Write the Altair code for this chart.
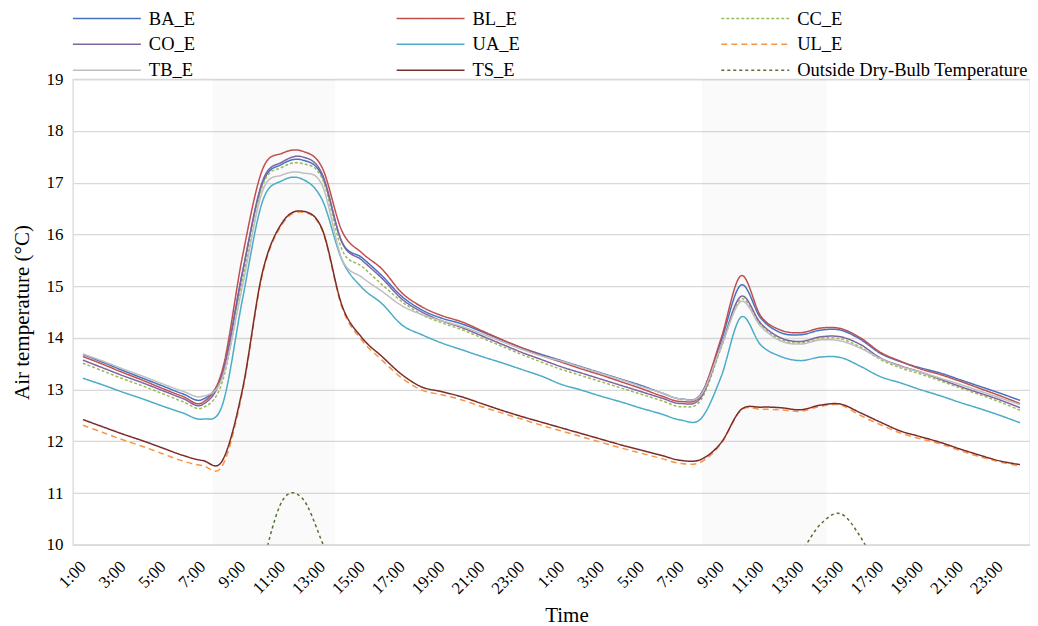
import altair as alt
import pandas as pd

hours = ["1:00", "2:00", "3:00", "4:00", "5:00", "6:00", "7:00", "8:00",
         "9:00", "10:00", "11:00", "12:00", "13:00", "14:00", "15:00", "16:00",
         "17:00", "18:00", "19:00", "20:00", "21:00", "22:00", "23:00", "24:00"]
time_labels = hours + hours

BA_E = [13.68, 13.53, 13.37, 13.22, 13.07, 12.92, 12.81, 13.33, 15.27, 16.98, 17.36, 17.44,
        17.13, 15.85, 15.55, 15.20, 14.80, 14.54, 14.38, 14.27, 14.12, 13.96, 13.81, 13.68,
        13.56, 13.44, 13.32, 13.20, 13.08, 12.94, 12.82, 12.92, 13.93, 15.02, 14.38, 14.10,
        14.06, 14.15, 14.15, 13.97, 13.70, 13.54, 13.42, 13.32, 13.19, 13.06, 12.93, 12.79]
BL_E = [13.64, 13.49, 13.33, 13.18, 13.02, 12.87, 12.75, 13.39, 15.57, 17.25, 17.57, 17.61,
        17.29, 16.06, 15.64, 15.33, 14.87, 14.60, 14.43, 14.31, 14.14, 13.97, 13.81, 13.66,
        13.53, 13.40, 13.28, 13.15, 13.02, 12.88, 12.77, 12.90, 13.98, 15.20, 14.42, 14.15,
        14.10, 14.19, 14.18, 14.00, 13.72, 13.55, 13.40, 13.29, 13.16, 13.02, 12.88, 12.73]
CC_E = [13.51, 13.36, 13.21, 13.07, 12.92, 12.77, 12.65, 13.16, 15.10, 16.93, 17.30, 17.37,
        17.08, 15.70, 15.38, 15.03, 14.70, 14.45, 14.29, 14.16, 14.00, 13.84, 13.68, 13.53,
        13.39, 13.27, 13.15, 13.03, 12.91, 12.79, 12.67, 12.80, 13.80, 14.75, 14.25, 13.97,
        13.90, 13.99, 13.98, 13.82, 13.58, 13.42, 13.30, 13.17, 13.03, 12.90, 12.76, 12.60]
CO_E = [13.57, 13.42, 13.27, 13.13, 12.98, 12.83, 12.71, 13.30, 15.25, 17.02, 17.40, 17.50,
        17.17, 15.84, 15.50, 15.15, 14.75, 14.50, 14.33, 14.20, 14.04, 13.88, 13.72, 13.58,
        13.44, 13.32, 13.20, 13.08, 12.96, 12.84, 12.73, 12.85, 13.83, 14.80, 14.28, 14.00,
        13.93, 14.02, 14.02, 13.87, 13.61, 13.46, 13.34, 13.20, 13.06, 12.93, 12.80, 12.65]
UA_E = [13.22, 13.09, 12.95, 12.82, 12.68, 12.55, 12.43, 12.71, 14.74, 16.63, 17.04, 17.07,
        16.67, 15.50, 14.97, 14.66, 14.25, 14.06, 13.90, 13.77, 13.64, 13.52, 13.39, 13.26,
        13.10, 12.99, 12.87, 12.76, 12.64, 12.53, 12.41, 12.44, 13.24, 14.40, 13.86, 13.64,
        13.56, 13.63, 13.62, 13.45, 13.25, 13.13, 13.00, 12.88, 12.75, 12.63, 12.50, 12.36]
UL_E = [12.31, 12.17, 12.03, 11.90, 11.76, 11.62, 11.53, 11.53, 12.95, 15.22, 16.20, 16.43,
        16.08, 14.58, 13.95, 13.57, 13.22, 12.99, 12.90, 12.80, 12.67, 12.55, 12.43, 12.31,
        12.20, 12.09, 11.98, 11.87, 11.77, 11.67, 11.57, 11.60, 11.95, 12.60, 12.62, 12.61,
        12.58, 12.68, 12.70, 12.50, 12.32, 12.16, 12.05, 11.95, 11.82, 11.70, 11.60, 11.52]
TB_E = [13.69, 13.55, 13.40, 13.26, 13.11, 12.97, 12.87, 13.24, 15.00, 16.83, 17.15, 17.19,
        16.95, 15.52, 15.17, 14.90, 14.62, 14.45, 14.33, 14.22, 14.08, 13.93, 13.78, 13.65,
        13.55, 13.43, 13.31, 13.19, 13.06, 12.94, 12.82, 12.90, 13.82, 14.70, 14.22, 13.94,
        13.88, 13.96, 13.94, 13.80, 13.60, 13.45, 13.34, 13.22, 13.10, 12.97, 12.84, 12.71]
TS_E = [12.42, 12.28, 12.14, 12.01, 11.87, 11.73, 11.63, 11.63, 13.00, 15.26, 16.23, 16.45,
        16.10, 14.62, 14.00, 13.64, 13.29, 13.05, 12.96, 12.86, 12.73, 12.60, 12.48, 12.37,
        12.26, 12.15, 12.04, 11.93, 11.83, 11.73, 11.63, 11.65, 11.97, 12.61, 12.66, 12.65,
        12.61, 12.70, 12.72, 12.55, 12.37, 12.20, 12.09, 11.98, 11.85, 11.73, 11.62, 11.55]
outdoor = [6.5, 6.2, 6.0, 5.8, 5.6, 5.5, 5.6, 6.5, 8.0, 9.6, 10.85, 10.9,
           10.05, 9.0, 8.2, 7.6, 7.2, 6.9, 6.6, 6.4, 6.2, 6.0, 5.8, 5.7,
           5.6, 5.4, 5.2, 5.1, 5.0, 4.9, 5.0, 5.8, 7.0, 8.0, 8.8, 9.4,
           9.85, 10.4, 10.6, 10.15, 9.4, 8.5, 7.8, 7.3, 6.9, 6.6, 6.3, 6.1]

# occupied (shaded) periods, in hour-index units
shade_start = [6.5, 31.05]
shade_end = [12.65, 37.3]
shade_low = [10, 10]
shade_high = [19, 19]

names = ["BA_E", "BL_E", "CC_E", "CO_E", "UA_E", "UL_E", "TB_E", "TS_E",
         "Outside Dry-Bulb Temperature"]
colors = ["#4472C4", "#C0504D", "#9BBB59", "#8064A2", "#4BACC6", "#F79646",
          "#BFBFBF", "#7B2C2A", "#56722E"]
dashes = [[1, 0], [1, 0], [3, 2], [1, 0], [1, 0], [6, 4], [1, 0], [1, 0], [3, 3]]
widths = [1.5, 1.5, 1.5, 1.5, 1.5, 1.5, 1.5, 1.5, 3.2]
series_values = [BA_E, BL_E, CC_E, CO_E, UA_E, UL_E, TB_E, TS_E, outdoor]

rows = []
for name, vals in zip(names, series_values):
    for i, v in enumerate(vals):
        rows.append({"t": i, "temp": v, "series": name})
df = pd.DataFrame(rows)

shade_df = pd.DataFrame({"t": shade_start, "t_end": shade_end,
                         "temp": shade_low, "temp_end": shade_high})

label_array = "[" + ",".join("'" + s + "'" for s in time_labels) + "]"

FONT = "Liberation Serif"

xscale = alt.Scale(domain=[-0.5, 47.5], nice=False, zero=False)
yscale = alt.Scale(domain=[10, 19], nice=False, zero=False)

x_axis = alt.Axis(
    title="Time", values=list(range(0, 48, 2)),
    labelExpr=label_array + "[datum.value]",
    labelAngle=-45, labelAlign="right", labelBaseline="middle", labelPadding=19,
    labelFontSize=17,
    grid=False, titleX=494, titleY=60, titleAlign="center", titleBaseline="top",
)
y_axis = alt.Axis(
    title="Air temperature (°C)", values=list(range(10, 20)), format="d",
    labelPadding=10, titlePadding=13, grid=True, labelFontSize=17,
)

shade = alt.Chart(shade_df).mark_rect(color="#808080", opacity=0.04).encode(
    x=alt.X("t:Q", scale=xscale, axis=x_axis),
    x2="t_end:Q",
    y=alt.Y("temp:Q", scale=yscale, axis=y_axis),
    y2="temp_end:Q",
)

lines = alt.Chart(df).mark_line(interpolate="cardinal", clip=True).encode(
    x=alt.X("t:Q", scale=xscale, axis=x_axis),
    y=alt.Y("temp:Q", scale=yscale, axis=y_axis),
    color=alt.Color("series:N", scale=alt.Scale(domain=names, range=colors),
                    legend=alt.Legend(title=None)),
    strokeDash=alt.StrokeDash("series:N", scale=alt.Scale(domain=names, range=dashes),
                              legend=alt.Legend(title=None)),
    strokeWidth=alt.StrokeWidth("series:N", scale=alt.Scale(domain=names, range=widths),
                                legend=alt.Legend(title=None)),
)

chart = alt.layer(shade, lines).properties(
    width=958, height=466,
    padding={"left": 4, "top": 0, "right": 0, "bottom": 0},
    background="white",
).configure_view(
    stroke="#d9d9d9", strokeWidth=1.3,
).configure_axis(
    gridColor="#d9d9d9", gridWidth=1.3, domain=False, ticks=False,
    labelFont=FONT, labelColor="black",
    titleFont=FONT, titleFontSize=21, titleFontWeight="normal", titleColor="black",
).configure_legend(
    orient="none", legendX=-10, legendY=-71, columns=3, direction="horizontal",
    columnPadding=191, rowPadding=6,
    symbolType="M0,0H7.556", symbolSize=324, symbolStrokeWidth=1.5,
    labelFont=FONT, labelFontSize=18.5, labelColor="black", labelOffset=66,
    labelLimit=400, padding=0,
)

chart.save("out.html", embed_options={"renderer": "svg", "actions": False})
